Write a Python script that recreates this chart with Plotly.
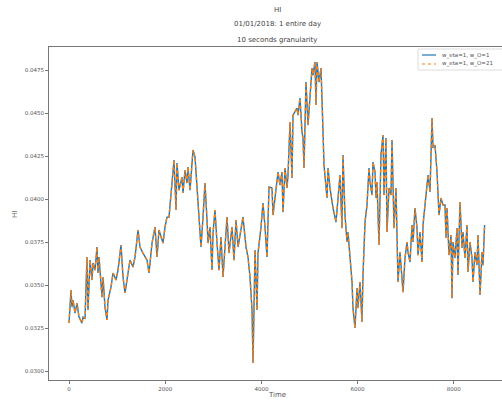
import plotly.graph_objects as go

# Time index (10-second steps over one day) and HI values
time = [0, 42, 62, 83, 125, 166, 208, 270, 291, 333, 374, 395, 437, 478, 499, 541, 582, 603, 624, 686,
        707, 748, 790, 811, 873, 915, 977, 1019, 1081, 1123, 1164, 1206, 1268, 1331, 1372, 1435, 1476, 1538,
        1622, 1663, 1726, 1788, 1830, 1871, 1954, 1996, 2037, 2079, 2141, 2183, 2225, 2245, 2287, 2349, 2370,
        2412, 2453, 2474, 2516, 2557, 2578, 2620, 2661, 2703, 2744, 2786, 2827, 2869, 2890, 2931, 2973, 2994,
        3035, 3077, 3119, 3160, 3202, 3243, 3285, 3326, 3389, 3430, 3472, 3514, 3555, 3617, 3680, 3721, 3763,
        3805, 3826, 3867, 3909, 3929, 3992, 4033, 4075, 4116, 4158,
        4220, 4241, 4283, 4324, 4345, 4387, 4428, 4449, 4491, 4532, 4553, 4595, 4636, 4657, 4699, 4740, 4761,
        4802, 4844, 4865, 4886, 4927, 4969, 5010, 5052, 5073, 5114, 5135, 5156, 5198, 5239, 5281, 5301, 5364,
        5385, 5426, 5468, 5489, 5551, 5593, 5634, 5676, 5696, 5738, 5780, 5800, 5842, 5884, 5904, 5946, 5988,
        6008, 6050, 6091, 6112, 6154, 6195, 6237,
        6258, 6299, 6320, 6362, 6383, 6403, 6445, 6486, 6528, 6549, 6590, 6611, 6653, 6694, 6715, 6757, 6798,
        6819, 6840, 6881, 6923, 6944, 6985, 7027, 7048, 7089, 7131, 7152, 7193, 7235, 7256, 7297, 7339, 7360,
        7401, 7443, 7464, 7505, 7547, 7568, 7609, 7651, 7672, 7692, 7734, 7775, 7817, 7838, 7859, 7900, 7942,
        7963, 7983, 8025, 8067, 8087, 8129, 8171, 8191, 8233, 8274, 8295, 8337, 8378, 8399, 8441, 8482, 8503,
        8545, 8586, 8607, 8640]

hi_w1 = [0.03279, 0.03471, 0.03372, 0.03413, 0.03337, 0.03395, 0.03314, 0.03279, 0.03314, 0.03308, 0.03663,
         0.03355, 0.03645, 0.03529, 0.03628, 0.03587, 0.03721, 0.03570, 0.03663, 0.03430, 0.03547, 0.03372,
         0.03297, 0.03413, 0.03488, 0.03570, 0.03529, 0.03587, 0.03733, 0.03547, 0.03454, 0.03529, 0.03645,
         0.03605, 0.03663, 0.03820, 0.03721, 0.03686, 0.03645, 0.03570, 0.03744, 0.03837, 0.03663, 0.03820,
         0.03744, 0.03837, 0.03895, 0.03895, 0.04070, 0.04227, 0.03936, 0.04209, 0.04052, 0.04128, 0.04035,
         0.04169, 0.04093, 0.04186, 0.04052, 0.04227, 0.04285, 0.04244, 0.04070, 0.03919, 0.03721, 0.03895,
         0.04093, 0.03878, 0.03744, 0.03837, 0.03587, 0.03802, 0.03936, 0.03744, 0.03587, 0.03779, 0.03547,
         0.03721, 0.03895, 0.03686, 0.03837, 0.03645, 0.03878, 0.03721, 0.03802, 0.03895, 0.03721, 0.03663,
         0.03547, 0.03355, 0.03047, 0.03704, 0.03355, 0.03686, 0.03837, 0.03977, 0.03837, 0.03663, 0.04070,
         0.04064, 0.03907, 0.04006, 0.04122, 0.04157, 0.04081, 0.04157, 0.03924, 0.04180, 0.04064, 0.04140,
         0.04448, 0.04122, 0.04488, 0.04506, 0.04529, 0.04488, 0.04587, 0.04390, 0.04355, 0.04180, 0.04680,
         0.04430, 0.04622, 0.04762, 0.04721, 0.04797, 0.04547, 0.04797, 0.04680, 0.04762, 0.04390, 0.04198,
         0.04006, 0.04180, 0.04064, 0.03983, 0.03948, 0.03866, 0.04023, 0.04140, 0.03831, 0.04256, 0.03907,
         0.03750, 0.03808, 0.03674, 0.03518, 0.03366, 0.03250, 0.03483, 0.03366, 0.03518, 0.03285, 0.03558,
         0.03866, 0.03965, 0.04180,
         0.04099, 0.04023, 0.04215, 0.04157, 0.04006, 0.04099, 0.03733, 0.04256, 0.04372, 0.04023, 0.04355,
         0.03808, 0.04064, 0.04023, 0.04343, 0.03831, 0.04064, 0.03715, 0.03518, 0.03692, 0.03500, 0.03459,
         0.03657, 0.03750, 0.03692, 0.03634, 0.03849, 0.03750, 0.03948, 0.03831, 0.03674, 0.03808, 0.03634,
         0.03849, 0.03965, 0.04064, 0.04140, 0.04041, 0.04471, 0.04297, 0.04314, 0.04157, 0.04023, 0.03907,
         0.04006, 0.03965, 0.03965, 0.03773, 0.03948, 0.03674, 0.03791, 0.03424, 0.03750, 0.03657, 0.03831,
         0.03558, 0.03983, 0.03715, 0.03808, 0.03657, 0.03849, 0.03576, 0.03750, 0.03657, 0.03518, 0.03692,
         0.03616, 0.03791, 0.03442, 0.03692, 0.03616, 0.03849]

# The w_O=21 run overlaps the w_O=1 run everywhere in the picture
hi_w21 = list(hi_w1)

series_names = ["w_eta=1, w_O=1", "w_eta=1, w_O=21"]
series_colors = ["#1f77b4", "#ff7f0e"]
series_dash = ["solid", "dot"]
x_ticks = [0, 2000, 4000, 6000, 8000]
y_ticks = [0.0300, 0.0325, 0.0350, 0.0375, 0.0400, 0.0425, 0.0450, 0.0475]

W, H = 502, 400
ML, MR, MT, MB = 49, 0, 47, 20
PW, PH = W - ML - MR, H - MT - MB


def px(xp):
    return (xp - ML) / PW


def py(yp):
    return 1 - (yp - MT) / PH


fig = go.Figure()
for vals, name, col, dash in zip([hi_w1, hi_w21], series_names, series_colors, series_dash):
    fig.add_trace(go.Scatter(x=time, y=vals, mode="lines", name=name, showlegend=False,
                             line=dict(color=col, width=1.4, dash=dash)))

axis_common = dict(showgrid=False, zeroline=False, showline=True, linecolor="#777", linewidth=1,
                   ticks="outside", ticklen=3, tickcolor="#777",
                   tickfont=dict(family="DejaVu Sans", size=5.5, color="#555"))

fig.update_xaxes(range=[-416, 9002], tickvals=x_ticks, mirror=True, **axis_common)
fig.update_yaxes(range=[0.02948, 0.04884], tickvals=y_ticks, tickformat=".4f", **axis_common)

label_font = dict(family="DejaVu Sans", size=7, color="#555")
fig.add_annotation(text="Time", xref="paper", yref="paper", x=px(277), y=py(395),
                   showarrow=False, font=label_font, xanchor="center", yanchor="middle")
fig.add_annotation(text="HI", xref="paper", yref="paper", x=px(15), y=py(215), textangle=-90,
                   showarrow=False, font=label_font, xanchor="center", yanchor="middle")

title_font = dict(family="DejaVu Sans", size=7, color="#444")
for txt, ypx in [("HI", 10), ("01/01/2018: 1 entire day", 24), ("10 seconds granularity", 40)]:
    fig.add_annotation(text=txt, xref="paper", yref="paper", x=px(277), y=py(ypx),
                       showarrow=False, font=title_font, xanchor="center", yanchor="middle")

# compact matplotlib-style legend
fig.add_shape(type="rect", xref="paper", yref="paper", x0=px(418), x1=px(504), y0=py(70), y1=py(49),
              line=dict(color="#ddd", width=1), fillcolor="rgba(255,255,255,0.85)", layer="above")
legend_font = dict(family="DejaVu Sans", size=5.5, color="#555")
for name, col, dash, ypx in zip(series_names, series_colors, series_dash, [55, 64]):
    fig.add_shape(type="line", xref="paper", yref="paper", x0=px(422), x1=px(436), y0=py(ypx), y1=py(ypx),
                  line=dict(color=col, width=1.2, dash=dash), layer="above")
    fig.add_annotation(text=name, xref="paper", yref="paper", x=px(440), y=py(ypx),
                       showarrow=False, font=legend_font, xanchor="left", yanchor="middle")

fig.update_layout(
    width=W, height=H,
    margin=dict(l=ML, r=MR, t=MT, b=MB),
    paper_bgcolor="white", plot_bgcolor="white",
)

fig.write_html("out.html", config={"displayModeBar": False},
               post_script="document.body.style.margin='0';")
